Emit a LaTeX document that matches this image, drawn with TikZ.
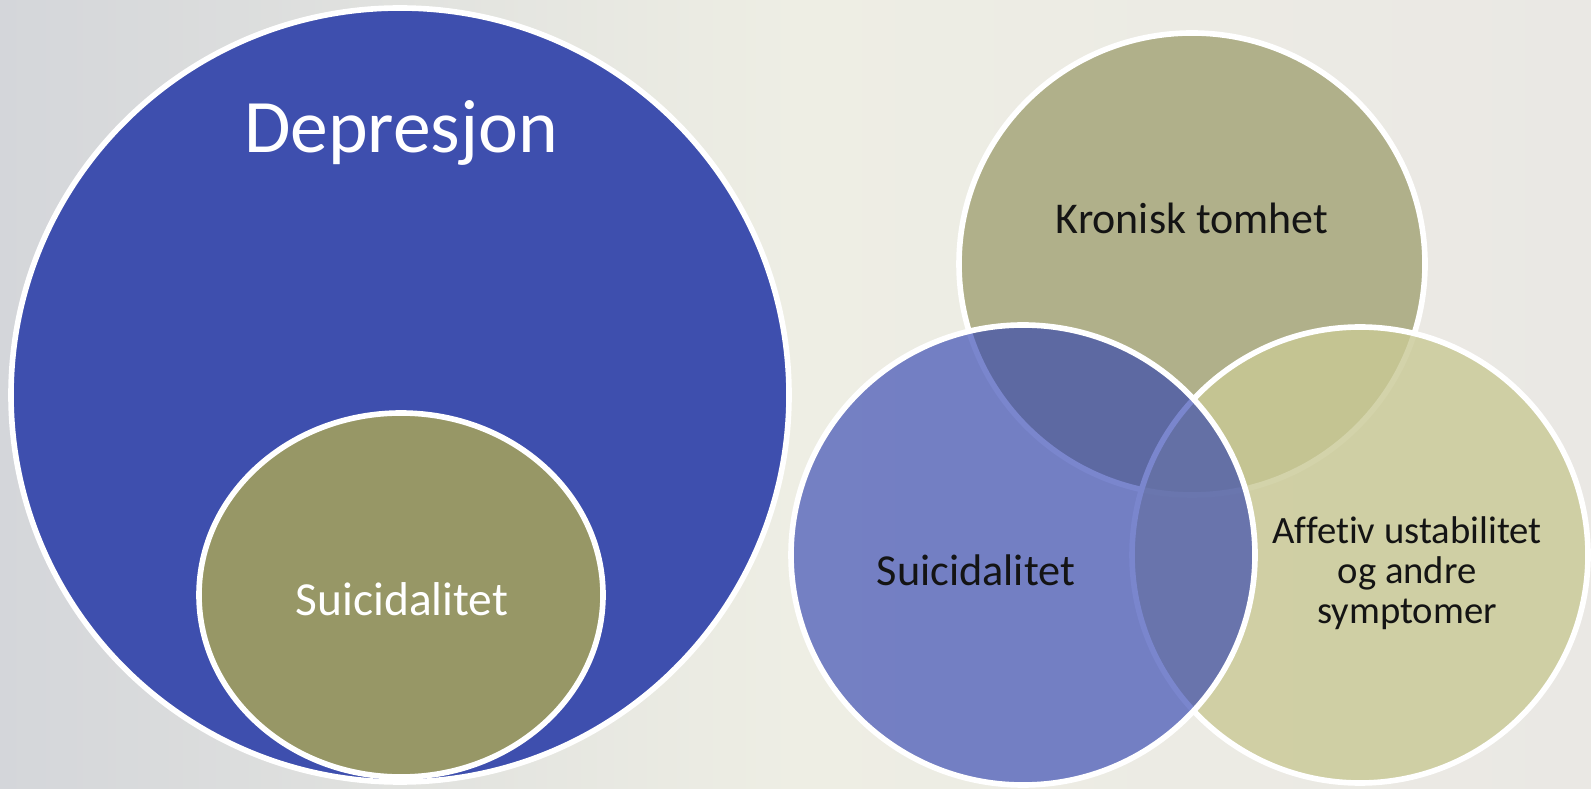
\documentclass[tikz,border=0pt]{standalone}
\usepackage{fontspec}
\setmainfont{Carlito}[Ligatures=NoCommon]
\usepackage{tikz}
\definecolor{figbg}{RGB}{238,238,228}
\definecolor{figbgl}{RGB}{212,214,218}
\definecolor{figbgr}{RGB}{234,232,228}
\definecolor{figblue}{RGB}{62,79,174}
\definecolor{figolive}{RGB}{151,151,102}
\definecolor{figsage}{RGB}{176,176,138}
\definecolor{figpale}{RGB}{201,201,149}
\definecolor{figviolet}{RGB}{45,64,177}
\definecolor{figink}{RGB}{20,20,20}
\tikzset{
  bub/.style  ={draw=white, line width=1.6pt},
  labw/.style ={text=white, inner sep=0pt, anchor=base},
  labk/.style ={text=figink, inner sep=0pt, anchor=base},
}

\begin{document}
\begin{tikzpicture}
  \useasboundingbox (0,0) rectangle (15.91,7.88);
  \clip (0,0) rectangle (15.91,7.88);
  \shade[left color=figbgl, right color=figbgr, middle color=figbg] (0,0) rectangle (15.91,7.88);
  \filldraw[bub, fill=figblue] (4.00,3.93) ellipse [x radius=3.89, y radius=3.87];
  \filldraw[bub, fill=figolive] (4.01,1.93) ellipse [x radius=2.02, y radius=1.82];
  \node[labw, font=\fontsize{21.5}{26}\selectfont] (dep) at (4.01,6.35) {Depresjon};
  \node[labw, font=\fontsize{13.5}{16}\selectfont] (suil) at (4.02,1.73) {Suicidalitet};
  \filldraw[bub, fill=figsage] (11.92,5.24) ellipse [x radius=2.33, y radius=2.31];
  \filldraw[bub, fill=figpale, fill opacity=0.8] (13.60,2.33) ellipse [x radius=2.28, y radius=2.28];
  \filldraw[bub, fill=figviolet, fill opacity=0.63] (10.23,2.33) ellipse [x radius=2.32, y radius=2.30];
  \node[labk, font=\fontsize{12.5}{15}\selectfont] (krt) at (11.92,5.54) {Kronisk tomhet};
  \node[labk, font=\fontsize{12.6}{15}\selectfont] (suir) at (9.76,2.02) {Suicidalitet};
  \node[labk, anchor=center, align=center, font=\fontsize{11}{11.4}\selectfont] (aff) at (14.07,2.15) {Affetiv ustabilitet\\og andre\\symptomer};
\end{tikzpicture}
\end{document}
